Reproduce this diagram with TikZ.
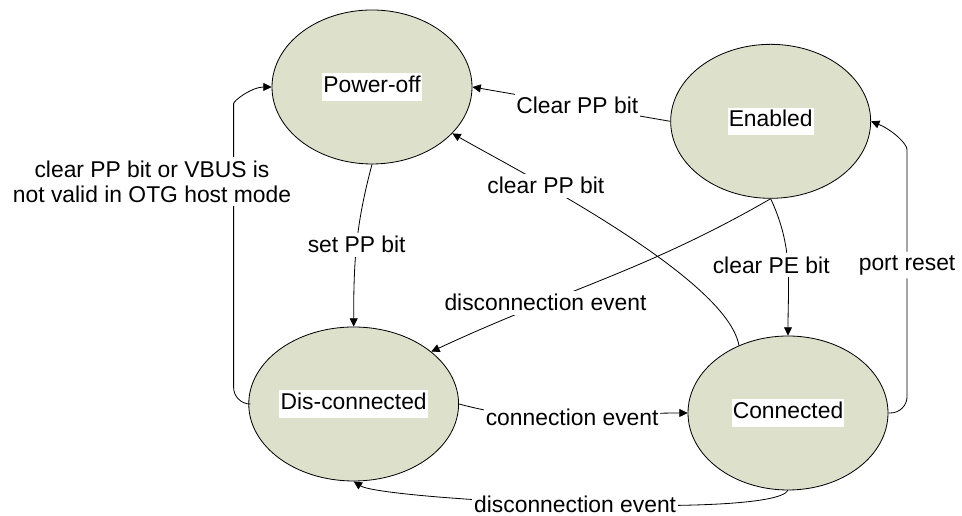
\documentclass[tikz,border=0pt]{standalone}
\usepackage{fontspec}
\setmainfont{Liberation Sans}
\usetikzlibrary{arrows.meta,shapes.geometric}
\definecolor{stategreen}{RGB}{221,225,204}
\setlength{\fboxsep}{1pt}

\begin{document}
\begin{tikzpicture}[
    font=\fontsize{19.5}{21.5}\selectfont,
    line width=0.7pt,
    state/.style={
        draw,
        ellipse,
        fill=stategreen,
        minimum width=6cm,
        minimum height=4.62cm,
        inner sep=0pt
    },
    arr/.style={-{Triangle[length=0.25cm,width=0.24cm]}},
    lbl/.style={fill=white, inner xsep=1.5pt, inner ysep=3pt}
]

\useasboundingbox (0,0) rectangle (28.86,15.48);

% States
\node[state] (poweroff) at (11.16,12.87) {\colorbox{white}{\strut Power-off}};
\node[state] (enabled) at (23.12,11.84) {\colorbox{white}{\strut Enabled}};
\node[state] (disconnected) at (10.61,3.36) {\colorbox{white}{\strut Dis-connected}};
\node[state] (connected) at (23.64,3.09) {\colorbox{white}{\strut Connected}};

% Transitions
\draw[arr] (poweroff.south) to[out=-105,in=90] node[lbl] (setpp) {set PP bit} (disconnected.north);
\draw[arr] (enabled.west) -- node[lbl,pos=0.47] (clearpp) {Clear PP bit} (poweroff.east);
\draw[arr] (connected.126) to[out=100,in=-30,looseness=0.5] node[lbl,pos=0.68] (clearppc) {clear PP bit} (poweroff.-30);
\draw[arr] (enabled.south) to[out=-150,in=25] node[lbl,pos=0.68] (discevent) {disconnection event} (disconnected.34);
\draw[arr] (enabled.south) to[out=-65,in=90] node[lbl,xshift=-0.5cm] (clearpe) {clear PE bit} (connected.north);
\draw[arr,rounded corners=0.5cm] (connected.east) -| node[lbl,pos=0.8] (portreset) {port reset} ([xshift=1.08cm,yshift=-1.35cm]enabled.east) to[out=90,in=-22] (enabled.east);
\draw[arr] (disconnected.east) to[out=-15,in=180] node[lbl] (connevent) {connection event} (connected.west);
\draw[arr] (connected.south) to[out=-120,in=-33,looseness=0.2] node[lbl] (discbottom) {disconnection event} (disconnected.south);
\draw[arr,rounded corners=0.5cm] (disconnected.west) -| ([xshift=-1.14cm,yshift=-1cm]poweroff.west) to[out=90,in=180] (poweroff.west);

% Label on the left loop
\node[lbl,align=center] (otgtext) at (4.56,10.02) {clear PP bit or VBUS is\\not valid in OTG host mode};

\end{tikzpicture}
\end{document}
